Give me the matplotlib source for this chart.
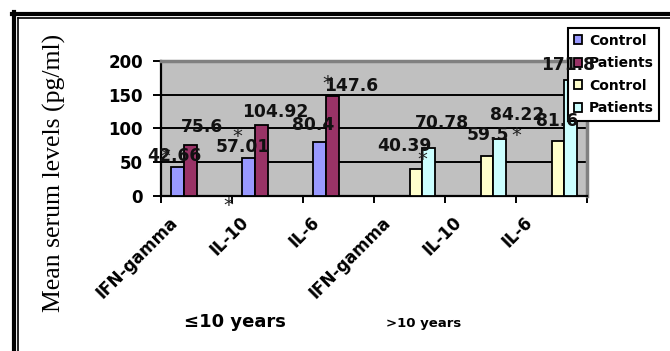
import matplotlib
matplotlib.use("Agg")
import matplotlib.pyplot as plt
import matplotlib.transforms as mtransforms
from matplotlib.lines import Line2D
import numpy as np

cytokines = ['IFN-gamma', 'IL-10', 'IL-6']
groups = ['≤10 years', '>10 years']
control_young = [42.66, 57.01, 80.4]
patients_young = [75.6, 104.92, 147.6]
control_old = [40.39, 59.5, 81.6]
patients_old = [70.78, 84.22, 171.8]
series_names = ['Control', 'Patients', 'Control', 'Patients']

colors = ['#9999FF', '#993366', '#FFFFCC', '#CCFFFF']
# pixel offsets (dx, dy) of each value label from its bar top
label_offsets = [
    [(-2.5, 6.5), (-5, 6), (-6, 11.5)],
    [(12, 12.5), (14.5, 8.5), (19.5, 5)],
    [(-11.5, 18), (0.5, 15.5), (-0.5, 14.5)],
    [(12.5, 20.5), (17.5, 19.5), (-3, 10)],
]
# significance stars: (series, index, dx, dy)
stars = [(0, 0, -12, 11), (0, 1, -11, 21.5), (1, 2, -5, 13),
         (2, 0, 6, 9), (2, 1, 29, 20)]

fig = plt.figure(figsize=(6.7, 3.51), dpi=100)
ax = fig.add_axes([161 / 670, 1 - 196 / 351, 426 / 670, 135 / 351])
ax.set_facecolor('#C0C0C0')

series = [control_young, patients_young, control_old, patients_old]
w = 0.183
n = len(cytokines)
bars = []
for k, vals in enumerate(series):
    first = 0 if k < 2 else n
    x = np.arange(first, first + n) + (k - 1.5) * w
    ax.bar(x, vals, width=w, color=colors[k], edgecolor='black',
           linewidth=1.3, zorder=3, label=series_names[k])
    bars.append((x, vals))
    for i, v in enumerate(vals):
        dx, dy = label_offsets[k][i]
        ax.annotate(f'{v:g}', xy=(x[i], v), xytext=(dx, dy),
                    textcoords='offset pixels', ha='center', va='baseline',
                    fontsize=12.3, fontweight='bold', color='#111111',
                    zorder=10, annotation_clip=False)

for k, i, dx, dy in stars:
    x, vals = bars[k]
    ax.annotate('*', xy=(x[i], vals[i]), xytext=(dx, dy),
                textcoords='offset pixels', ha='center', va='center',
                fontsize=14, color='#222222', zorder=10)
ax.annotate('*', xy=(0.5, 0), xycoords=('data', 'axes fraction'),
            xytext=(-4, -10), textcoords='offset pixels', ha='center',
            va='center', fontsize=14, color='#222222', annotation_clip=False)

ax.set_xlim(-0.5, 2 * n - 0.5)
ax.set_ylim(0, 200)
ax.set_yticks(np.arange(0, 201, 50))
ax.yaxis.grid(True, color='black', linewidth=1.4)
ax.set_axisbelow(True)
ax.tick_params(axis='y', length=6, width=1.4, pad=7, labelsize=12)
for t in ax.get_yticklabels():
    t.set_fontweight('bold')

ax.set_xticks(np.arange(-0.5, 2 * n, 1.0))
ax.set_xticklabels([])
ax.tick_params(axis='x', which='major', length=5, width=1.4)
ax.set_xticks(np.arange(2 * n), cytokines * 2, minor=True)
ax.tick_params(axis='x', which='minor', length=0, pad=17)
shift = mtransforms.ScaledTranslation(-22 / 100, 0, fig.dpi_scale_trans)
for t in ax.get_xticklabels(minor=True):
    t.set_rotation(45)
    t.set_ha('right')
    t.set_va('center')
    t.set_rotation_mode('anchor')
    t.set_fontsize(12)
    t.set_fontweight('bold')
    t.set_transform(t.get_transform() + shift)

for side in ['left', 'bottom']:
    ax.spines[side].set_color('black')
    ax.spines[side].set_linewidth(1.6)
for side in ['top', 'right']:
    ax.spines[side].set_color('#808080')
    ax.spines[side].set_linewidth(2.5)

fig.text(54.5 / 670, 1 - 173 / 351, 'Mean serum levels (pg/ml)', rotation=90,
         ha='center', va='center', fontsize=18.5, family='Liberation Serif')
fig.text(235 / 670, 1 - 322 / 351, groups[0], ha='center', va='center',
         fontsize=13, fontweight='bold')
fig.text(423.5 / 670, 1 - 323 / 351, groups[1], ha='center', va='center',
         fontsize=9.5, fontweight='bold')

# legend sits under the value labels, like the overlapping 171.8
leg = ax.legend(loc='upper left', bbox_to_anchor=(568 / 670, 1 - 28 / 351),
                bbox_transform=fig.transFigure,
                borderaxespad=0, fancybox=False, framealpha=1,
                edgecolor='black', handlelength=0.6, handleheight=0.6,
                handletextpad=0.5, labelspacing=0.62, borderpad=0.4,
                prop={'weight': 'bold', 'size': 10})
leg.get_frame().set_linewidth(1.5)
leg.set_zorder(5)

# double frame along the top and left edges
fig.add_artist(Line2D([12 / 670, 1], [1 - 13.7 / 351] * 2, color='black', lw=3.0))
fig.add_artist(Line2D([17.5 / 670, 1], [1 - 18.2 / 351] * 2, color='black', lw=1.2))
fig.add_artist(Line2D([14 / 670] * 2, [0, 1 - 11.7 / 351], color='black', lw=3.0))
fig.add_artist(Line2D([18.2 / 670] * 2, [0, 1 - 17.5 / 351], color='black', lw=1.2))

fig.savefig('out.png', dpi=100)
